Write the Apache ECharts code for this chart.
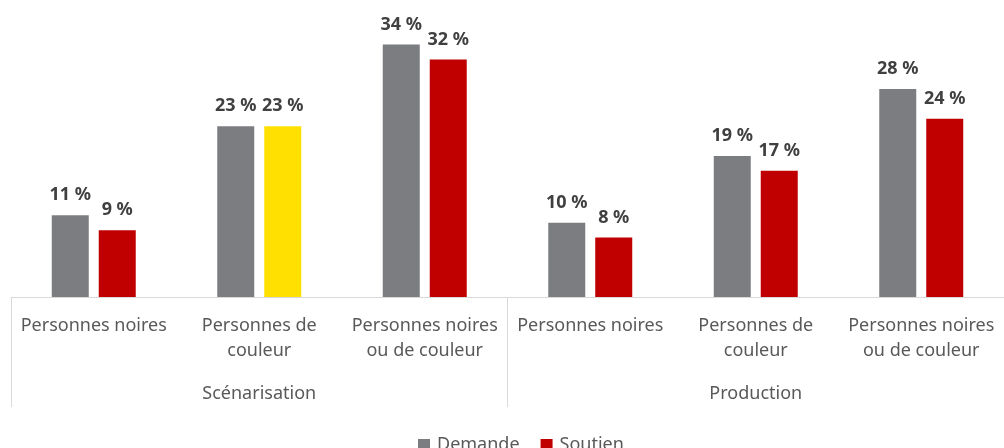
<!DOCTYPE html>
<html>
<head>
<meta charset="utf-8">
<script src="https://cdn.jsdelivr.net/npm/echarts@6/dist/echarts.min.js"></script>
<style>
  html, body { margin: 0; padding: 0; background: #fff; }
  #chart { width: 1004px; height: 448px; }
</style>
</head>
<body>
<div id="chart"></div>
<script>
// Categories (two groups of three)
const categories = [
  'Personnes noires', 'Personnes de\ncouleur', 'Personnes noires\nou de couleur',
  'Personnes noires', 'Personnes de\ncouleur', 'Personnes noires\nou de couleur'
];
const groups = ['Scénarisation', 'Production'];
const seriesNames = ['Demande', 'Soutien'];
// Percent values
const demande = [11, 23, 34, 10, 19, 28];
const soutien = [9, 23, 32, 8, 17, 24];
// Index of the highlighted "Soutien" bar
const highlightIndex = 1;

const GRAY = '#7b7d81';
const RED = '#c00000';
const YELLOW = '#ffe000';
const TEXT = '#595959';
const FONT = '"Noto Sans", "Open Sans", sans-serif';

const chart = echarts.init(document.getElementById('chart'), null, { renderer: 'canvas' });

const labelStyle = {
  show: true,
  position: 'top',
  distance: 11,
  formatter: p => p.value + ' %',
  color: '#404040',
  fontFamily: FONT,
  fontWeight: 'bold',
  fontSize: 18
};

chart.setOption({
  animation: false,
  backgroundColor: '#fff',
  grid: { left: 11, top: 0, width: 1000, height: 297, containLabel: false },
  legend: {
    top: 431,
    left: 413,
    data: seriesNames,
    icon: 'rect',
    itemWidth: 12,
    itemHeight: 12,
    itemGap: 21,
    itemStyle: { borderWidth: 0 },
    textStyle: { color: TEXT, fontFamily: FONT, fontSize: 18, padding: [0, 0, 0, 2] }
  },
  xAxis: [
    {
      type: 'category',
      data: categories,
      position: 'bottom',
      axisLine: { show: true, lineStyle: { color: '#d9d9d9', width: 1 } },
      axisTick: {
        show: true,
        length: 110,
        interval: (i) => i % 3 === 0,
        lineStyle: { color: '#d9d9d9', width: 1 }
      },
      axisLabel: {
        interval: 0,
        margin: 16,
        color: TEXT,
        fontFamily: FONT,
        fontSize: 18,
        lineHeight: 25,
        align: 'center'
      }
    },
    {
      type: 'category',
      data: groups,
      position: 'bottom',
      axisLine: { show: false },
      axisTick: { show: false },
      axisLabel: {
        interval: 0,
        margin: 84,
        color: TEXT,
        fontFamily: FONT,
        fontSize: 18,
        lineHeight: 25
      }
    }
  ],
  yAxis: {
    type: 'value',
    min: 0,
    max: 40,
    show: false,
    splitLine: { show: false }
  },
  series: [
    {
      name: seriesNames[0],
      type: 'bar',
      xAxisIndex: 0,
      data: demande,
      itemStyle: { color: GRAY },
      barWidth: 37,
      barGap: '27%',
      label: labelStyle
    },
    {
      name: seriesNames[1],
      type: 'bar',
      xAxisIndex: 0,
      data: soutien.map((v, i) => i === highlightIndex
        ? { value: v, itemStyle: { color: YELLOW } }
        : v),
      itemStyle: { color: RED },
      barWidth: 37,
      label: labelStyle
    }
  ]
});
</script>
</body>
</html>
